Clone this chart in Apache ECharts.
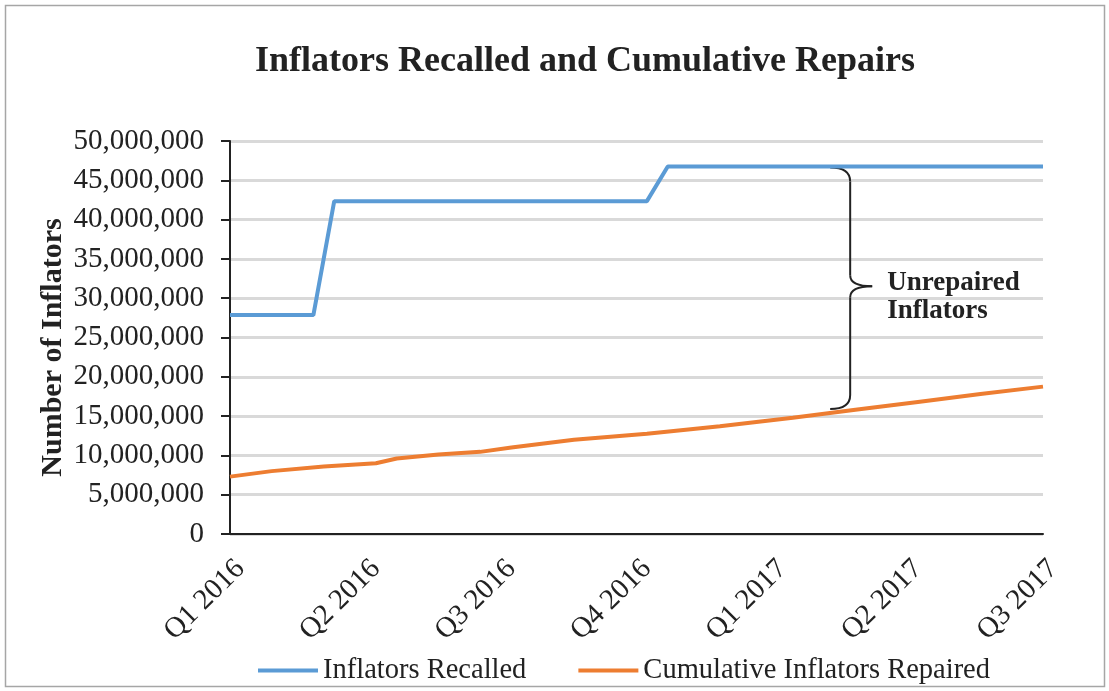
<!DOCTYPE html>
<html>
<head>
<meta charset="utf-8">
<script src="https://cdn.jsdelivr.net/npm/echarts@6/dist/echarts.min.js"></script>
<style>
  html, body { margin: 0; padding: 0; background: #fff; }
  #chart { width: 1109px; height: 691px; }
</style>
</head>
<body>
<div id="chart"></div>
<script>
// weeks counted from start of Q1 2016, 13 weeks per quarter
var quarterLabels = ['Q1 2016', 'Q2 2016', 'Q3 2016', 'Q4 2016', 'Q1 2017', 'Q2 2017', 'Q3 2017'];

var recalledWeeks  = [0, 8, 10, 40, 42, 78];
var recalledValues = [27850000, 27850000, 42350000, 42350000, 46750000, 46750000];

var repairedWeeks  = [0, 4, 9, 14, 16, 20, 24, 27, 33, 40, 47, 54, 60, 66, 72, 78];
var repairedValues = [7300000, 8000000, 8600000, 9000000, 9600000, 10100000, 10450000, 11000000,
                      12000000, 12750000, 13700000, 14800000, 15800000, 16800000, 17800000, 18750000];

// brace annotation spans the gap at this week
var braceWeek = 59.5;
var braceTop = 46750000;
var braceBottom = 15900000;

var FONT = '"Liberation Serif", "DejaVu Serif", serif';
var TEXT = '#222';

function pairs(xs, ys) {
  return xs.map(function (x, i) { return [x, ys[i]]; });
}

var chart = echarts.init(document.getElementById('chart'));

var option = {
  animation: false,
  backgroundColor: '#fff',
  title: {
    text: 'Inflators Recalled and Cumulative Repairs',
    left: 580,
    top: 39,
    textAlign: 'center',
    textStyle: { fontFamily: FONT, fontSize: 36, fontWeight: 'bold', color: TEXT }
  },
  legend: {
    left: 253,
    top: 651,
    itemWidth: 60,
    itemHeight: 4,
    itemGap: 52,
    icon: 'rect',
    textStyle: { fontFamily: FONT, fontSize: 28.5, color: TEXT },
    data: ['Inflators Recalled', 'Cumulative Inflators Repaired']
  },
  grid: { left: 230, right: 66, top: 141, bottom: 157 },
  xAxis: {
    type: 'value',
    min: 0,
    max: 78,
    interval: 13,
    axisLine: { onZero: false, lineStyle: { color: '#222', width: 2 } },
    axisTick: { show: false },
    splitLine: { show: false },
    axisLabel: {
      rotate: 45,
      margin: 20,
      verticalAlign: 'top',
      fontFamily: FONT,
      fontSize: 29,
      color: TEXT,
      formatter: function (v) { return quarterLabels[Math.round(v / 13)]; }
    }
  },
  yAxis: {
    type: 'value',
    min: 0,
    max: 50000000,
    interval: 5000000,
    name: 'Number of Inflators',
    nameLocation: 'middle',
    nameGap: 162,
    nameMoveOverlap: false,
    nameTextStyle: { fontFamily: FONT, fontSize: 30, fontWeight: 'bold', color: TEXT, padding: [0, 20, 0, 0] },
    axisLine: { show: true, lineStyle: { color: '#222', width: 2 } },
    axisTick: { show: true, length: 9, lineStyle: { color: '#222', width: 2 } },
    splitLine: { lineStyle: { color: '#d9d9d9', width: 3 } },
    axisLabel: {
      margin: 26,
      fontFamily: FONT,
      fontSize: 29,
      color: TEXT,
      formatter: function (v) { return v.toLocaleString('en-US'); }
    }
  },
  series: [
    {
      name: 'Inflators Recalled',
      type: 'line',
      showSymbol: false,
      color: '#5b9bd5',
      lineStyle: { width: 4, color: '#5b9bd5' },
      data: pairs(recalledWeeks, recalledValues)
    },
    {
      name: 'Cumulative Inflators Repaired',
      type: 'line',
      showSymbol: false,
      color: '#ed7d31',
      lineStyle: { width: 4, color: '#ed7d31' },
      data: pairs(repairedWeeks, repairedValues)
    }
  ]
};

chart.setOption(option);

// curly brace + label, placed from data coordinates
var pTop = chart.convertToPixel({ gridIndex: 0 }, [braceWeek, braceTop]);
var pBot = chart.convertToPixel({ gridIndex: 0 }, [braceWeek, braceBottom]);
var bx = pTop[0], yT = pTop[1] + 1, yB = pBot[1];
var yM = (yT + yB) / 2 - 2;
var hook = 20;
var braceStyle = { fill: null, stroke: '#222', lineWidth: 2 };

function curve(x1, y1, cx, cy, x2, y2) {
  return { type: 'bezierCurve', silent: true, style: braceStyle,
    shape: { x1: x1, y1: y1, cpx1: cx, cpy1: cy, x2: x2, y2: y2 } };
}
function seg(x1, y1, x2, y2) {
  return { type: 'line', silent: true, style: braceStyle,
    shape: { x1: x1, y1: y1, x2: x2, y2: y2 } };
}

chart.setOption({
  graphic: [
    {
      type: 'rect',
      silent: true,
      shape: { x: 5.5, y: 5.5, width: 1099, height: 681 },
      style: { fill: null, stroke: '#a6a6a6', lineWidth: 1.5 }
    },
    curve(bx - hook, yT, bx, yT, bx, yT + 14),
    seg(bx, yT + 14, bx, yM - 11),
    curve(bx, yM - 11, bx, yM, bx + 22, yM),
    curve(bx + 22, yM, bx, yM, bx, yM + 11),
    seg(bx, yM + 11, bx, yB - 14),
    curve(bx, yB - 14, bx, yB, bx - hook, yB),
    {
      type: 'text',
      silent: true,
      x: bx + 37,
      y: yM - 17,
      style: {
        text: 'Unrepaired\nInflators',
        font: 'bold 27px ' + FONT,
        lineHeight: 28,
        fill: TEXT
      }
    }
  ]
});
</script>
</body>
</html>
